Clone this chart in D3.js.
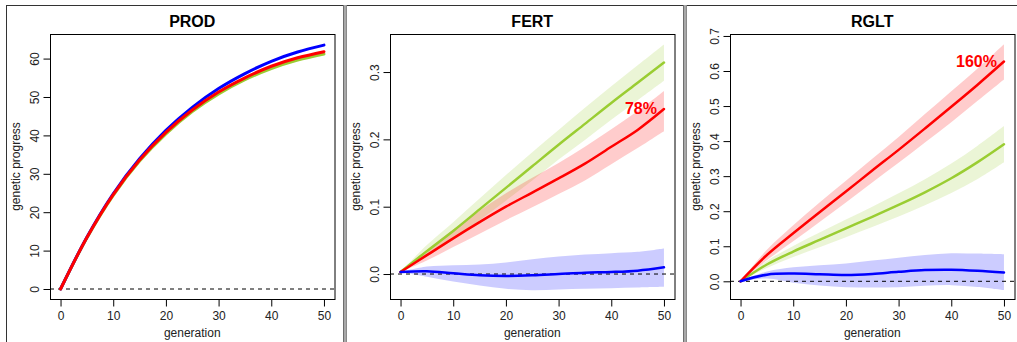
<!DOCTYPE html>
<html>
<head>
<meta charset="utf-8">
<script src="https://cdn.jsdelivr.net/npm/d3@7"></script>
<style>
  body { margin: 0; background: #fff; }
  svg { display: block; font-family: "Liberation Sans", Arial, Helvetica, sans-serif; }
</style>
</head>
<body>
<div id="chart"></div>
<script>
// genetic progress over 50 generations, three traits
const generations = [0, 5, 10, 15, 20, 25, 30, 35, 40, 45, 50];

// PROD
const prodGreen = [0, 13.3, 24.4, 33.3, 40.4, 46.2, 50.8, 54.5, 57.4, 59.6, 61.2];
const prodRed   = [0, 13.4, 24.6, 33.6, 40.8, 46.6, 51.3, 55.0, 58.0, 60.2, 61.8];
const prodBlue  = [0, 13.5, 24.8, 33.9, 41.3, 47.3, 52.2, 56.1, 59.3, 61.7, 63.5];

// FERT
const fertGreen   = [0.003, 0.034, 0.064, 0.096, 0.128, 0.160, 0.192, 0.223, 0.254, 0.284, 0.314];
const fertGreenHi = [0.003, 0.043, 0.077, 0.112, 0.147, 0.181, 0.214, 0.247, 0.279, 0.310, 0.341];
const fertGreenLo = [0.003, 0.026, 0.051, 0.080, 0.109, 0.139, 0.170, 0.199, 0.229, 0.258, 0.287];
const fertRed     = [0.003, 0.028, 0.053, 0.077, 0.100, 0.121, 0.142, 0.164, 0.189, 0.214, 0.245];
const fertRedHi   = [0.003, 0.036, 0.066, 0.094, 0.120, 0.143, 0.165, 0.189, 0.215, 0.242, 0.272];
const fertRedLo   = [0.003, 0.020, 0.040, 0.060, 0.080, 0.099, 0.119, 0.139, 0.163, 0.187, 0.212];
const fertBlue    = [0.003, 0.004, 0.001, -0.002, -0.003, -0.002, 0.000, 0.002, 0.003, 0.005, 0.010];
const fertBlueHi  = [0.003, 0.011, 0.013, 0.014, 0.017, 0.022, 0.026, 0.029, 0.031, 0.033, 0.038];
const fertBlueLo  = [0.003, -0.004, -0.011, -0.017, -0.022, -0.024, -0.023, -0.022, -0.021, -0.020, -0.019];

// RGLT
const rgltGreen   = [0.000, 0.048, 0.085, 0.118, 0.151, 0.184, 0.218, 0.254, 0.294, 0.340, 0.391];
const rgltGreenHi = [0.000, 0.058, 0.101, 0.139, 0.176, 0.213, 0.251, 0.291, 0.336, 0.387, 0.443];
const rgltGreenLo = [0.000, 0.038, 0.069, 0.097, 0.126, 0.155, 0.185, 0.217, 0.252, 0.292, 0.340];
const rgltRed     = [0.000, 0.075, 0.137, 0.197, 0.256, 0.316, 0.375, 0.436, 0.498, 0.561, 0.627];
const rgltRedHi   = [0.000, 0.090, 0.160, 0.225, 0.287, 0.350, 0.412, 0.477, 0.542, 0.607, 0.676];
const rgltRedLo   = [0.000, 0.060, 0.114, 0.169, 0.225, 0.282, 0.338, 0.396, 0.454, 0.515, 0.576];
const rgltBlue    = [0.000, 0.019, 0.022, 0.020, 0.018, 0.021, 0.027, 0.032, 0.033, 0.030, 0.025];
const rgltBlueHi  = [0.000, 0.028, 0.040, 0.046, 0.051, 0.059, 0.067, 0.075, 0.080, 0.079, 0.077];
const rgltBlueLo  = [0.000, 0.008, -0.004, -0.012, -0.017, -0.018, -0.017, -0.013, -0.011, -0.016, -0.025];

const xTicks = [0, 10, 20, 30, 40, 50];
const prodTicks = [0, 10, 20, 30, 40, 50, 60];
const fertTicks = [0, 0.1, 0.2, 0.3];
const rgltTicks = [0, 0.1, 0.2, 0.3, 0.4, 0.5, 0.6, 0.7];

const GREEN = "#9ACD32", RED = "#FF0000", BLUE = "#0000FF";

const width = 1017, height = 342;
const box = { left: 50, right: 334.5, top: 34, bottom: 299 };

const panels = [
  { title: "PROD", offset: 0, yDomain: [-2.6, 66.4], ticks: prodTicks, fmt: d3.format("d"), lw: 3,
    series: [
      { color: GREEN, mid: prodGreen },
      { color: BLUE, mid: prodBlue },
      { color: RED, mid: prodRed }
    ] },
  { title: "FERT", offset: 340, yDomain: [-0.0371, 0.3565], ticks: fertTicks, fmt: d3.format(".1f"), lw: 2.5,
    label: "78%",
    series: [
      { color: GREEN, mid: fertGreen, lo: fertGreenLo, hi: fertGreenHi },
      { color: RED, mid: fertRed, lo: fertRedLo, hi: fertRedHi },
      { color: BLUE, mid: fertBlue, lo: fertBlueLo, hi: fertBlueHi }
    ] },
  { title: "RGLT", offset: 680, yDomain: [-0.0505, 0.7056], ticks: rgltTicks, fmt: d3.format(".1f"), lw: 2.5,
    label: "160%",
    series: [
      { color: GREEN, mid: rgltGreen, lo: rgltGreenLo, hi: rgltGreenHi },
      { color: RED, mid: rgltRed, lo: rgltRedLo, hi: rgltRedHi },
      { color: BLUE, mid: rgltBlue, lo: rgltBlueLo, hi: rgltBlueHi }
    ] }
];

const svg = d3.select("#chart").append("svg")
  .attr("width", width)
  .attr("height", height);

// outer frame lines of the composite figure
svg.append("line").attr("x1", 6).attr("x2", width).attr("y1", 5.5).attr("y2", 5.5)
  .attr("stroke", "#333").attr("stroke-width", 1);
svg.append("line").attr("x1", 6.5).attr("x2", 6.5).attr("y1", 5).attr("y2", height)
  .attr("stroke", "#333").attr("stroke-width", 1);
[343, 683].forEach(sx => {
  svg.append("rect").attr("x", sx).attr("y", 5).attr("width", 4).attr("height", height - 5)
    .attr("fill", "#a8a8a8");
  svg.append("line").attr("x1", sx + 0.5).attr("x2", sx + 0.5).attr("y1", 5).attr("y2", height)
    .attr("stroke", "#6e6e6e");
  svg.append("line").attr("x1", sx + 3.5).attr("x2", sx + 3.5).attr("y1", 5).attr("y2", height)
    .attr("stroke", "#8a8a8a");
});

panels.forEach(p => {
  const g = svg.append("g").attr("transform", `translate(${p.offset},0)`);

  const x = d3.scaleLinear().domain([-2, 52]).range([box.left, box.right]);
  const y = d3.scaleLinear().domain(p.yDomain).range([box.bottom, box.top]);

  const clipId = "clip-" + p.title;
  g.append("clipPath").attr("id", clipId).append("rect")
    .attr("x", box.left).attr("y", box.top)
    .attr("width", box.right - box.left).attr("height", box.bottom - box.top);

  const plot = g.append("g").attr("clip-path", `url(#${clipId})`);

  const area = d3.area()
    .x((d, i) => x(generations[i]))
    .y0(d => y(d[0]))
    .y1(d => y(d[1]))
    .curve(d3.curveCatmullRom.alpha(0.5));

  const line = d3.line()
    .x((d, i) => x(generations[i]))
    .y(d => y(d))
    .curve(d3.curveCatmullRom.alpha(0.5));

  // confidence bands
  p.series.filter(s => s.lo).forEach(s => {
    plot.append("path")
      .datum(s.lo.map((v, i) => [v, s.hi[i]]))
      .attr("d", area)
      .attr("fill", s.color)
      .attr("fill-opacity", 0.2)
      .attr("stroke", "none");
  });

  // zero reference
  plot.append("line")
    .attr("x1", box.left).attr("x2", box.right)
    .attr("y1", y(0)).attr("y2", y(0))
    .attr("stroke", "#000").attr("stroke-width", 1)
    .attr("stroke-dasharray", "4,4");

  p.series.forEach(s => {
    plot.append("path")
      .datum(s.mid)
      .attr("d", line)
      .attr("fill", "none")
      .attr("stroke", s.color)
      .attr("stroke-width", p.lw)
      .attr("stroke-linecap", "round");
  });

  if (p.label) {
    const red = p.series.find(s => s.color === RED).mid;
    g.append("text")
      .attr("x", x(50) - 7)
      .attr("y", y(red[red.length - 1]) + 5)
      .attr("text-anchor", "end")
      .attr("fill", RED)
      .attr("font-size", 16)
      .attr("font-weight", "bold")
      .text(p.label);
  }

  // plot box
  g.append("rect")
    .attr("x", box.left + 0.5).attr("y", box.top + 0.5)
    .attr("width", box.right - box.left).attr("height", box.bottom - box.top)
    .attr("fill", "none").attr("stroke", "#000").attr("stroke-width", 1);

  // axes
  const xAxis = g.append("g")
    .attr("transform", `translate(0,${box.bottom + 0.5})`)
    .call(d3.axisBottom(x).tickValues(xTicks).tickSize(7).tickSizeOuter(0));
  xAxis.select(".domain").remove();
  xAxis.selectAll("text")
    .attr("y", 20).attr("dy", 0)
    .attr("font-size", 12)
    .attr("fill", "#222");

  const yAxis = g.append("g")
    .attr("transform", `translate(${box.left + 0.5},0)`)
    .call(d3.axisLeft(y).tickValues(p.ticks).tickFormat(p.fmt).tickSize(7).tickSizeOuter(0));
  yAxis.select(".domain").remove();
  yAxis.selectAll("text")
    .attr("x", 0).attr("dy", 0)
    .attr("text-anchor", "middle")
    .attr("transform", "translate(-12,0) rotate(-90)")
    .attr("font-size", 12)
    .attr("fill", "#222");
  [xAxis, yAxis].forEach(a => a.attr("font-family", null));

  // titles
  g.append("text")
    .attr("x", (box.left + box.right) / 2).attr("y", 27)
    .attr("text-anchor", "middle")
    .attr("font-size", 16).attr("font-weight", "bold")
    .text(p.title);

  g.append("text")
    .attr("x", (box.left + box.right) / 2).attr("y", 337)
    .attr("text-anchor", "middle")
    .attr("font-size", 12).attr("fill", "#222")
    .text("generation");

  g.append("text")
    .attr("transform", `translate(20,${(box.top + box.bottom) / 2}) rotate(-90)`)
    .attr("text-anchor", "middle")
    .attr("font-size", 12).attr("fill", "#222")
    .text("genetic progress");
});
</script>
</body>
</html>
